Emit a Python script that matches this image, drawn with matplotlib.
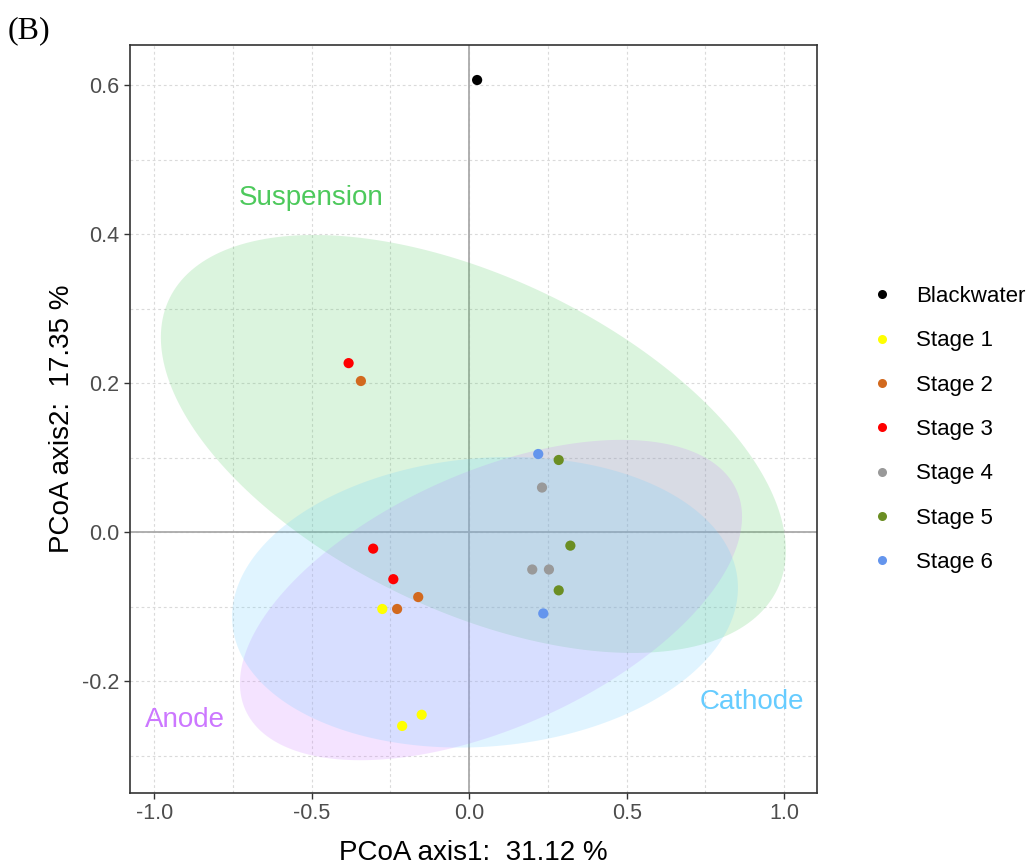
import numpy as np
import matplotlib
matplotlib.use("Agg")
import matplotlib.pyplot as plt
from matplotlib.lines import Line2D

plt.rcParams['font.family'] = ['Liberation Sans', 'DejaVu Sans']

# ---- sample scores on the first two PCoA axes ----
groups = ["Blackwater", "Stage 1", "Stage 2", "Stage 3", "Stage 4", "Stage 5", "Stage 6"]
group_colors = ["#000000", "#FFFF00", "#D2691E", "#FF0000", "#999999", "#6B8E23", "#6495ED"]

blackwater_x = [0.025]
blackwater_y = [0.607]
stage1_x = [-0.276, -0.213, -0.151]
stage1_y = [-0.103, -0.260, -0.245]
stage2_x = [-0.344, -0.229, -0.162]
stage2_y = [0.203, -0.103, -0.087]
stage3_x = [-0.383, -0.305, -0.241]
stage3_y = [0.227, -0.022, -0.063]
stage4_x = [0.231, 0.200, 0.253]
stage4_y = [0.060, -0.050, -0.050]
stage5_x = [0.284, 0.321, 0.284]
stage5_y = [0.097, -0.018, -0.078]
stage6_x = [0.219, 0.235]
stage6_y = [0.105, -0.109]

xs = [blackwater_x, stage1_x, stage2_x, stage3_x, stage4_x, stage5_x, stage6_x]
ys = [blackwater_y, stage1_y, stage2_y, stage3_y, stage4_y, stage5_y, stage6_y]

# ---- confidence ellipses: centre, half extents along x / y, correlation ----
ellipse_names = ["Suspension", "Anode", "Cathode"]
ellipse_colors = ["#4DC95C", "#CC77FF", "#66CCFF"]
ellipse_cx = [0.013, 0.069, 0.050]
ellipse_cy = [0.1185, -0.091, -0.094]
ellipse_rx = [0.992, 0.797, 0.803]
ellipse_ry = [0.2805, 0.215, 0.195]
ellipse_rho = [-0.51, 0.52, 0.10]

label_x = [-0.503, -0.903, 0.897]
label_y = [0.449, -0.252, -0.228]

x_label = "PCoA axis1:  31.12 %"
y_label = "PCoA axis2:  17.35 %"

fig = plt.figure(figsize=(10.3, 8.67), dpi=100)
ax = fig.add_axes([130 / 1030, 1 - 793 / 867, (817 - 130) / 1030, (793 - 45) / 867])

ax.set_xlim(-1.077, 1.104)
ax.set_ylim(-0.350, 0.654)

# grid (major + minor), dashed light grey
ax.set_xticks([-1.0, -0.5, 0.0, 0.5, 1.0])
ax.set_yticks([-0.2, 0.0, 0.2, 0.4, 0.6])
ax.set_xticks([-0.75, -0.25, 0.25, 0.75], minor=True)
ax.set_yticks([-0.3, -0.1, 0.1, 0.3, 0.5], minor=True)
ax.set_xticklabels(["-1.0", "-0.5", "0.0", "0.5", "1.0"])
ax.set_yticklabels(["-0.2", "0.0", "0.2", "0.4", "0.6"])
ax.grid(True, which="both", color="#dadada", linestyle=(0, (2.5, 2.5)), linewidth=0.8, zorder=0)
ax.set_axisbelow(True)
ax.tick_params(which="minor", length=0)
ax.tick_params(which="major", length=4.5, width=1.0, color="#333333",
               labelsize=15.5, labelcolor="#4D4D4D", pad=3)

# zero reference lines
ax.axhline(0, color="#AAAAAA", linewidth=1.3, zorder=1)
ax.axvline(0, color="#AAAAAA", linewidth=1.3, zorder=1)

# ellipses
t = np.linspace(0, 2 * np.pi, 241)
circle = np.vstack([np.cos(t), np.sin(t)])
for cx, cy, rx, ry, rho, col in zip(ellipse_cx, ellipse_cy, ellipse_rx, ellipse_ry,
                                    ellipse_rho, ellipse_colors):
    cov = np.array([[rx * rx, rho * rx * ry], [rho * rx * ry, ry * ry]])
    L = np.linalg.cholesky(cov)
    pts = L @ circle
    ax.fill(cx + pts[0], cy + pts[1], color=col, alpha=0.2, linewidth=0, zorder=2)

# group labels
for name, lx, ly, col in zip(ellipse_names, label_x, label_y, ellipse_colors):
    ax.text(lx, ly, name, color=col, fontsize=20, ha="center", va="center", zorder=4)

# sample points
for gx, gy, col in zip(xs, ys, group_colors):
    ax.scatter(gx, gy, s=54, color=col, edgecolors="none", zorder=5)

for sp in ax.spines.values():
    sp.set_color("#333333")
    sp.set_linewidth(1.2)

ax.set_xlabel(x_label, fontsize=20, labelpad=11.5, color="black")
ax.set_ylabel(y_label, fontsize=20, labelpad=5, color="black")

handles = [Line2D([0], [0], marker="o", linestyle="none", markersize=6.5,
                  markerfacecolor=c, markeredgecolor="none") for c in group_colors]
fig.legend(handles, groups, loc="upper left", bbox_to_anchor=(869 / 1030, 1 - 286 / 867),
           frameon=False, fontsize=16, handletextpad=0.9, labelspacing=1.05,
           handlelength=1.2, borderaxespad=0, borderpad=0)

fig.text(8 / 1030, 1 - 38 / 867, "(B)", fontsize=23, family=["Liberation Serif", "DejaVu Serif"],
         ha="left", va="baseline")

fig.savefig("out.png", dpi=100)
